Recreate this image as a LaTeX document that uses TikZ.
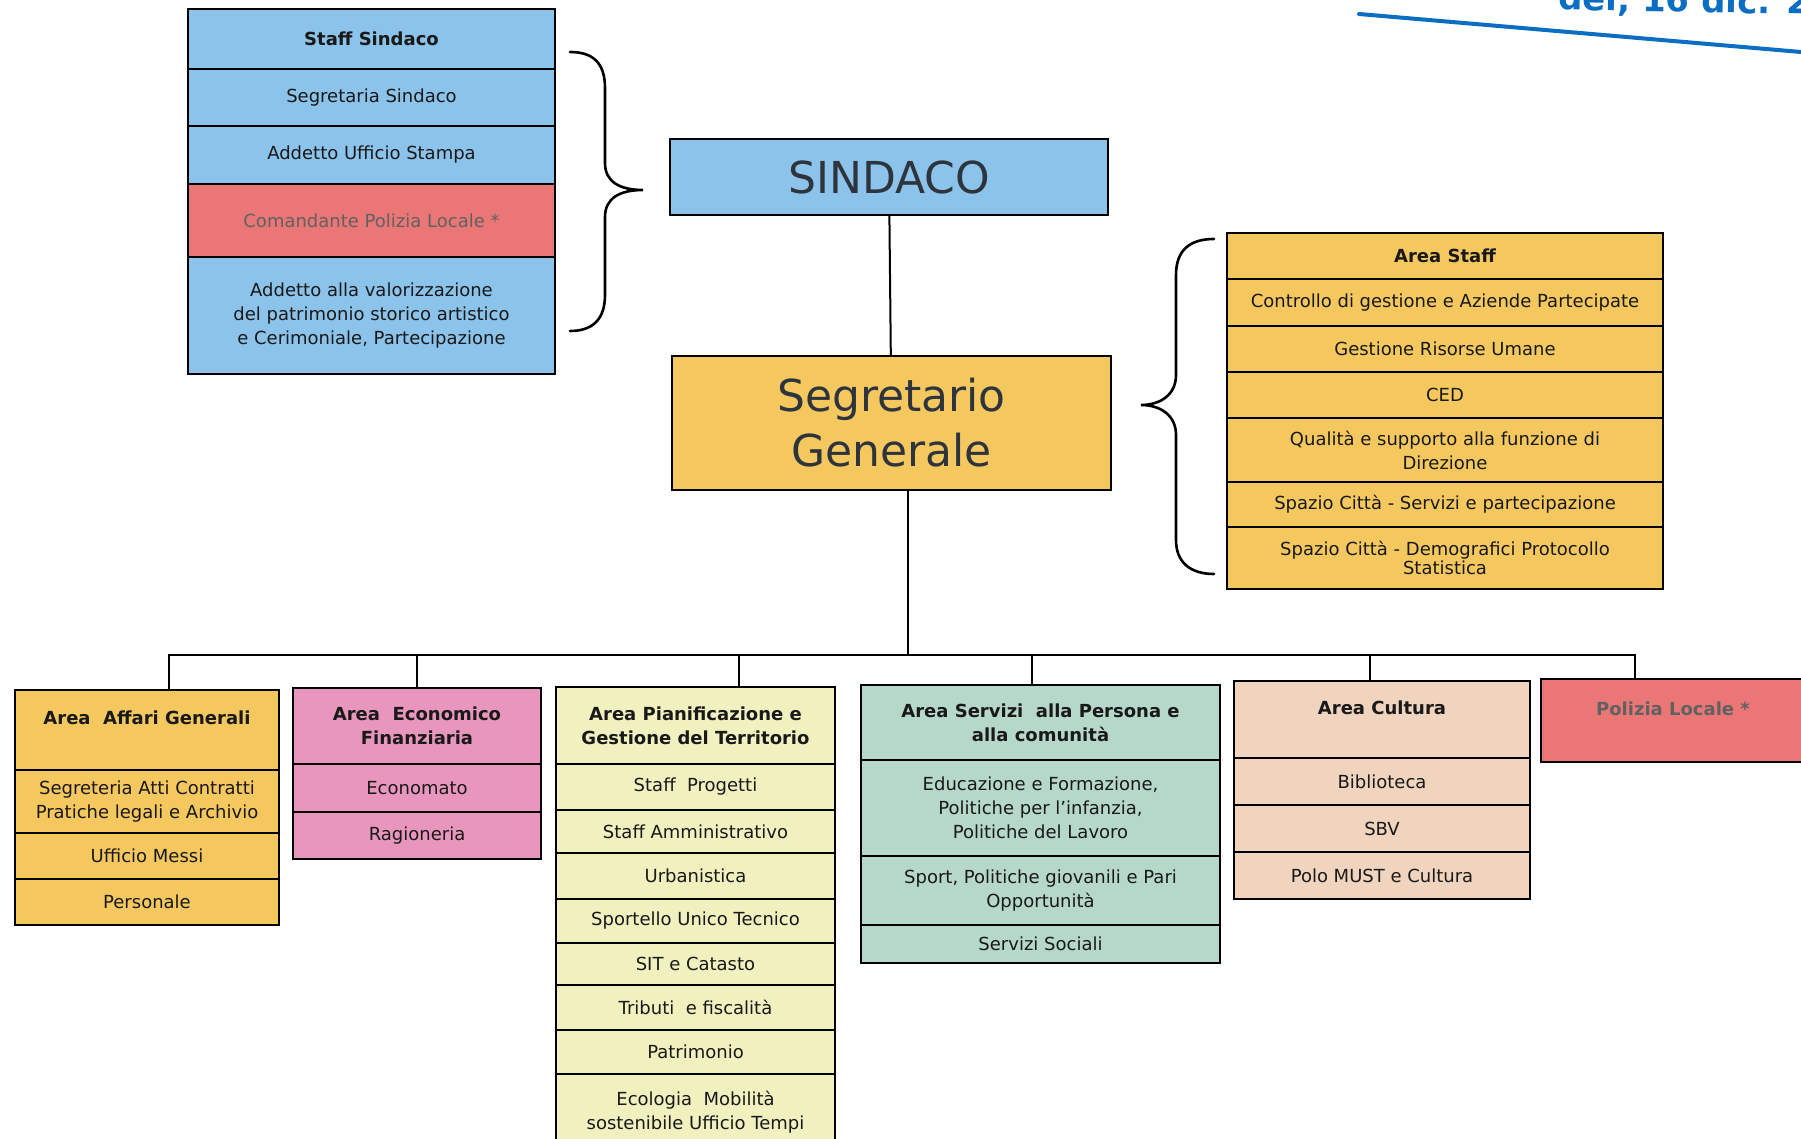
\documentclass[tikz,border=0pt]{standalone}
\usepackage{fontspec}
\setmainfont{DejaVu Sans}
\usepackage{xcolor}
\usepackage{tikz}
\usetikzlibrary{positioning}
\definecolor{azzurro}{RGB}{140,195,235}
\definecolor{rosso}{RGB}{234,118,118}
\definecolor{arancio}{RGB}{245,200,95}
\definecolor{rosa}{RGB}{233,150,190}
\definecolor{paglia}{RGB}{241,241,192}
\definecolor{verdino}{RGB}{182,216,202}
\definecolor{pesca}{RGB}{240,212,190}
\definecolor{penna}{RGB}{10,110,195}
\definecolor{scuro}{RGB}{45,52,60}

\begin{document}
\begin{tikzpicture}[x=1pt,y=-1pt,
  box/.style={draw, line width=2.6pt, outer sep=0pt, inner sep=1pt, align=center, text=black!90, font=\fontsize{18}{24}\selectfont},
  bbox/.style={box, font=\fontsize{18}{24}\selectfont\bfseries},
  sind/.style={fill=azzurro, minimum width=367pt},
  stf/.style={fill=arancio, minimum width=436pt},
  agen/.style={fill=arancio, minimum width=264pt},
  econ/.style={fill=rosa, minimum width=248pt},
  pian/.style={fill=paglia, minimum width=279pt},
  serv/.style={fill=verdino, minimum width=359pt},
  cult/.style={fill=pesca, minimum width=296pt},
  conn/.style={line width=2pt},
  graffa/.style={line width=2.6pt, line cap=round}]
 \useasboundingbox (0,0) rectangle (1801,1139);
 \fill[white] (0,0) rectangle (1801,1139);

 \node[bbox, sind, minimum height=60pt, anchor=north west] (ss1) at (188,9) {Staff Sindaco};
 \node[box, sind, minimum height=57pt, below=0pt of ss1] (ss2) {Segretaria Sindaco};
 \node[box, sind, minimum height=58pt, below=0pt of ss2] (ss3) {Addetto Ufficio Stampa};
 \node[box, sind, fill=rosso, text=black!62, minimum height=73pt, below=0pt of ss3] (ss4) {Comandante Polizia Locale *};
 \node[box, sind, minimum height=117pt, below=0pt of ss4] (ss5) {Addetto alla valorizzazione\\del patrimonio storico artistico\\e Cerimoniale, Partecipazione};

 \node[box, fill=azzurro, minimum width=438pt, minimum height=76pt, text=scuro, font=\fontsize{44}{54}\selectfont, anchor=north west] (sind) at (670,139) {SINDACO};
 \node[box, fill=arancio, minimum width=439pt, minimum height=134pt, text=scuro, font=\fontsize{44}{55}\selectfont, anchor=north west] (segr) at (672,356) {Segretario\\Generale};

 \node[bbox, stf, minimum height=46pt, anchor=north west] (as1) at (1227,233) {Area Staff};
 \node[box, stf, minimum height=47pt, below=0pt of as1] (as2) {Controllo di gestione e Aziende Partecipate};
 \node[box, stf, minimum height=46pt, below=0pt of as2] (as3) {Gestione Risorse Umane};
 \node[box, stf, minimum height=46pt, below=0pt of as3] (as4) {CED};
 \node[box, stf, minimum height=64pt, below=0pt of as4] (as5) {Qualità e supporto alla funzione di\\Direzione};
 \node[box, stf, minimum height=45pt, below=0pt of as5] (as6) {Spazio Città - Servizi e partecipazione};
 \node[box, stf, minimum height=62pt, font=\fontsize{18}{19}\selectfont, below=0pt of as6] (as7) {Spazio Città - Demografici Protocollo\\Statistica};

 \node[bbox, agen, minimum height=80pt, anchor=north west] (ag1) at (15,690) {Area\ \ Affari Generali\\~};
 \node[box, agen, minimum height=63pt, below=0pt of ag1] (ag2) {Segreteria Atti Contratti\\Pratiche legali e Archivio};
 \node[box, agen, minimum height=46pt, below=0pt of ag2] (ag3) {Ufficio Messi};
 \node[box, agen, minimum height=46pt, below=0pt of ag3] (ag4) {Personale};

 \node[bbox, econ, minimum height=76pt, anchor=north west] (ef1) at (293,688) {Area\ \ Economico\\Finanziaria};
 \node[box, econ, minimum height=48pt, below=0pt of ef1] (ef2) {Economato};
 \node[box, econ, minimum height=47pt, below=0pt of ef2] (ef3) {Ragioneria};

 \node[bbox, pian, minimum height=77pt, anchor=north west] (pg1) at (556,687) {Area Pianificazione e\\Gestione del Territorio};
 \node[box, pian, minimum height=46pt, below=0pt of pg1] (pg2) {Staff\ \ Progetti};
 \node[box, pian, minimum height=43pt, below=0pt of pg2] (pg3) {Staff Amministrativo};
 \node[box, pian, minimum height=46pt, below=0pt of pg3] (pg4) {Urbanistica};
 \node[box, pian, minimum height=44pt, below=0pt of pg4] (pg5) {Sportello Unico Tecnico};
 \node[box, pian, minimum height=42pt, below=0pt of pg5] (pg6) {SIT e Catasto};
 \node[box, pian, minimum height=45pt, below=0pt of pg6] (pg7) {Tributi\ \ e fiscalità};
 \node[box, pian, minimum height=44pt, below=0pt of pg7] (pg8) {Patrimonio};
 \node[box, pian, minimum height=76pt, below=0pt of pg8] (pg9) {Ecologia\ \ Mobilità\\sostenibile Ufficio Tempi};

 \node[bbox, serv, minimum height=75pt, anchor=north west] (sv1) at (861,685) {Area Servizi\ \ alla Persona e\\alla comunità};
 \node[box, serv, minimum height=96pt, below=0pt of sv1] (sv2) {Educazione e Formazione,\\Politiche per l'infanzia,\\Politiche del Lavoro};
 \node[box, serv, minimum height=69pt, below=0pt of sv2] (sv3) {Sport, Politiche giovanili e Pari\\Opportunità};
 \node[box, serv, minimum height=38pt, below=0pt of sv3] (sv4) {Servizi Sociali};

 \node[bbox, cult, minimum height=77pt, anchor=north west] (cu1) at (1234,681) {Area Cultura\\~};
 \node[box, cult, minimum height=47pt, below=0pt of cu1] (cu2) {Biblioteca};
 \node[box, cult, minimum height=47pt, below=0pt of cu2] (cu3) {SBV};
 \node[box, cult, minimum height=47pt, below=0pt of cu3] (cu4) {Polo MUST e Cultura};

 \node[bbox, fill=rosso, text=black!62, minimum width=264pt, minimum height=83pt, anchor=north west] (pl) at (1541,679) {Polizia Locale *\\~};

 \draw[conn] (sind) -- (segr);
 \draw[conn] ([xshift=16pt]segr.south) -- ([xshift=16pt]segr.south |- 0,655);
 \draw[conn] ([xshift=22pt]ag1.north) |- ([xshift=-38pt]pl.north |- 0,655) -- ([xshift=-38pt]pl.north);
 \draw[conn] (ef1.north) -- (ef1.north |- 0,655);
 \draw[conn] ([xshift=43pt]pg1.north) -- ([xshift=43pt]pg1.north |- 0,655);
 \draw[conn] ([xshift=-9pt]sv1.north) -- ([xshift=-9pt]sv1.north |- 0,655);
 \draw[conn] ([xshift=-12pt]cu1.north) -- ([xshift=-12pt]cu1.north |- 0,655);

 \draw[graffa] (570,52) .. controls (592,52) and (605,62) .. (605,88) -- (605,163) .. controls (605,182) and (620,190) .. (643,190) .. controls (620,190) and (605,198) .. (605,217) -- (605,295) .. controls (605,320) and (592,331) .. (570,331);
 \draw[graffa] (1214,239) .. controls (1190,239) and (1176,250) .. (1176,275) -- (1176,375) .. controls (1176,395) and (1160,405) .. (1141,405) .. controls (1160,405) and (1176,415) .. (1176,435) -- (1176,540) .. controls (1176,562) and (1190,574) .. (1214,574);

 \draw[penna, line width=4pt, line cap=round] (1359,14) -- (1801,52);
 \node[text=penna, font=\fontsize{34}{34}\selectfont\bfseries, anchor=base west, rotate=-1, inner sep=0pt] (nota) at (1558,10) {del,\ 16 dic. 2};
\end{tikzpicture}
\end{document}
